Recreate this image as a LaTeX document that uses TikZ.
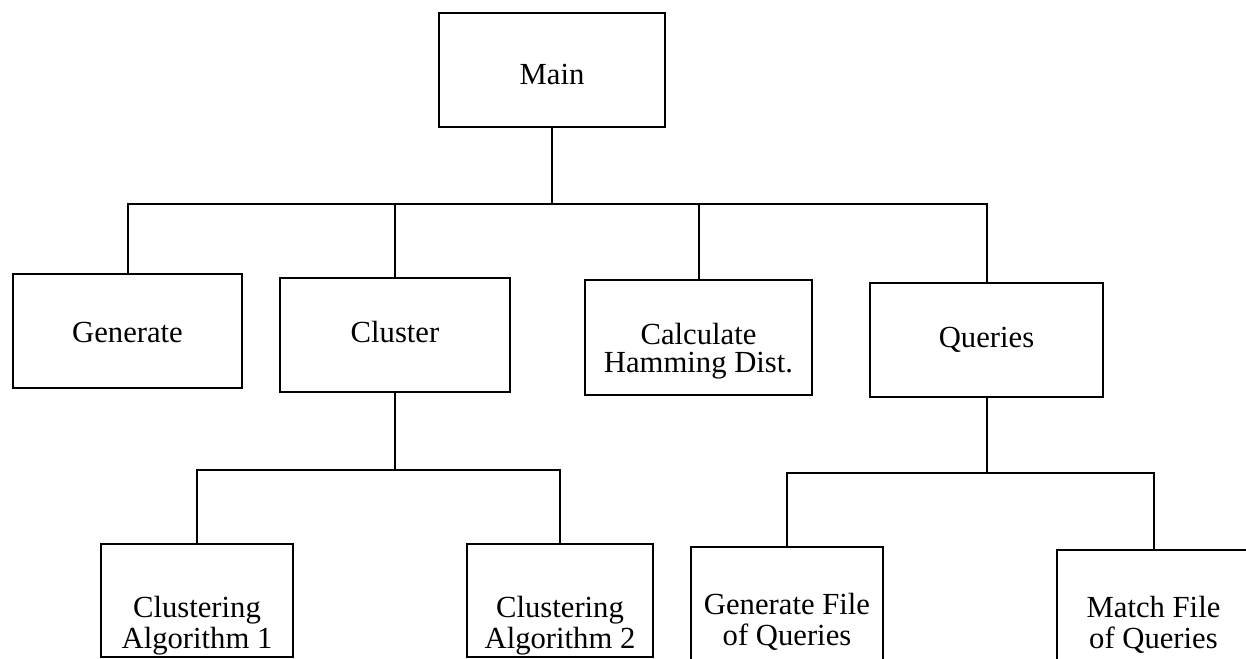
\documentclass[tikz,border=0pt]{standalone}
\usepackage{fontspec}
\setmainfont{Liberation Serif}

\tikzset{every picture/.style={line width=1.5pt}}
\tikzset{
  box/.style={draw, inner sep=0pt},
  lbl/.style={anchor=base, inner sep=0pt, align=center, font=\fontsize{23}{23}\selectfont}
}

\begin{document}
\begin{tikzpicture}[x=0.75pt,y=0.75pt,yscale=-1,xscale=1]
    \useasboundingbox (0,0) rectangle (1246,659);

    % Boxes, first row
    \node [box, minimum width=169.5pt, minimum height=85.5pt] (main) at (552,70) {};
    % Boxes, second row
    \node [box, minimum width=171.75pt, minimum height=85.5pt] (gen) at (127.5,331) {};
    \node [box, minimum width=172.5pt, minimum height=85.5pt] (clu) at (395,335) {};
    \node [box, minimum width=170.25pt, minimum height=86.25pt] (calc) at (698.5,337.5) {};
    \node [box, minimum width=174.75pt, minimum height=85.5pt] (qry) at (986.5,340) {};
    % Boxes, third row
    \node [box, minimum width=144pt, minimum height=84.75pt] (alg1) at (197,600.5) {};
    \node [box, minimum width=139.5pt, minimum height=84.75pt] (alg2) at (560,600.5) {};
    \node [box, minimum width=144pt, minimum height=86.25pt] (genq) at (787,604.5) {};
    \node [box, minimum width=144.75pt, minimum height=86.25pt] (matq) at (1153.5,607.5) {};

    % Text Node (base = last line)
    \node [lbl] (main-txt) at (552,85) {Main};
    \node [lbl] (gen-txt) at (127.5,343) {Generate};
    \node [lbl] (clu-txt) at (395,343) {Cluster};
    \node [lbl, font=\fontsize{23}{21}\selectfont] (calc-txt) at (698.5,373) {Calculate\\Hamming Dist.};
    \node [lbl] (qry-txt) at (986.5,348) {Queries};
    \node [lbl] (alg1-txt) at (197,648) {Clustering\\Algorithm 1};
    \node [lbl] (alg2-txt) at (560,648) {Clustering\\Algorithm 2};
    \node [lbl] (genq-txt) at (787,645) {Generate File\\of Queries};
    \node [lbl] (matq-txt) at (1153.5,648) {Match File\\of Queries};

    % Connectors
    \coordinate (top-bus) at (552,204);
    \coordinate (clu-bus) at (395,470);
    \coordinate (qry-bus) at (986.5,473);

    \draw (main.south) -- (top-bus);
    \draw (gen.north) |- (top-bus) -| (qry.north);
    \draw (clu.north) -- (clu.north |- top-bus);
    \draw (calc.north) -- (calc.north |- top-bus);

    \draw (clu.south) -- (clu-bus);
    \draw (alg1.north) |- (clu-bus) -| (alg2.north);

    \draw (qry.south) -- (qry-bus);
    \draw (genq.north) |- (qry-bus) -| (matq.north);

\end{tikzpicture}
\end{document}
